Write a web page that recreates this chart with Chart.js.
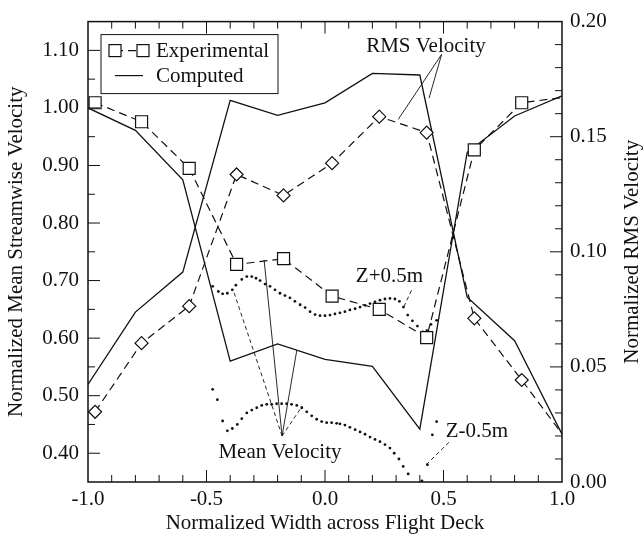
<!DOCTYPE html>
<html>
<head>
<meta charset="utf-8">
<script src="https://cdn.jsdelivr.net/npm/chart.js@4.4.0/dist/chart.umd.min.js"></script>
<style>
  html, body { margin: 0; padding: 0; background: #fff; }
</style>
</head>
<body>
<canvas id="chart" width="644" height="540"></canvas>
<script>
// experimental points (squares = mean, diamonds = rms)
const expX = [-0.970, -0.774, -0.573, -0.373, -0.175, 0.030, 0.229, 0.429, 0.630, 0.830, 1.000];
const expMean = [1.009, 0.976, 0.895, 0.728, 0.738, 0.673, 0.650, 0.601, 0.927, 1.009, 1.018];
const expRms = [0.0305, 0.0603, 0.0764, 0.1336, 0.1245, 0.1385, 0.1587, 0.1518, 0.0711, 0.0443, 0.0209];

// computed curves
const compX = [-1.0, -0.8, -0.6, -0.4, -0.2, 0.0, 0.2, 0.4, 0.6, 0.8, 1.0];
const compMean = [1.000, 0.961, 0.875, 0.560, 0.590, 0.563, 0.551, 0.442, 0.923, 0.986, 1.021];
const compRms = [0.0424, 0.0738, 0.0912, 0.1658, 0.1593, 0.1647, 0.1775, 0.1768, 0.0803, 0.0614, 0.0208];

// computed mean velocity at Z+0.5m and Z-0.5m (dots)
const zPlusX = [-0.474, -0.450, -0.432, -0.412, -0.391, -0.376, -0.351, -0.330, -0.309, -0.291,
  -0.274, -0.253, -0.232, -0.211, -0.190, -0.169, -0.148, -0.127, -0.105, -0.084,
  -0.063, -0.042, -0.021, 0.000, 0.021, 0.042, 0.063, 0.084, 0.105, 0.127,
  0.148, 0.169, 0.190, 0.211, 0.232, 0.253, 0.274, 0.295, 0.314, 0.331,
  0.349, 0.369, 0.390, 0.413, 0.430, 0.447, 0.471];
const zPlusMean = [0.690, 0.681, 0.677, 0.678, 0.684, 0.692, 0.702, 0.707, 0.707, 0.704,
  0.700, 0.694, 0.690, 0.684, 0.678, 0.674, 0.670, 0.664, 0.658, 0.653,
  0.646, 0.641, 0.639, 0.639, 0.640, 0.642, 0.644, 0.646, 0.649, 0.651,
  0.654, 0.657, 0.660, 0.663, 0.666, 0.668, 0.669, 0.668, 0.664, 0.654,
  0.640, 0.630, 0.621, 0.611, 0.613, 0.624, 0.631];
const zMinusX = [-0.474, -0.454, -0.432, -0.412, -0.391, -0.370, -0.351, -0.330, -0.309, -0.288,
  -0.267, -0.246, -0.225, -0.204, -0.183, -0.162, -0.141, -0.119, -0.098, -0.077,
  -0.056, -0.035, -0.014, 0.007, 0.028, 0.049, 0.063, 0.084, 0.105, 0.127,
  0.148, 0.169, 0.190, 0.211, 0.232, 0.253, 0.274, 0.292, 0.312, 0.330,
  0.351, 0.409, 0.432, 0.453, 0.471];
const zMinusMean = [0.511, 0.493, 0.456, 0.439, 0.443, 0.450, 0.460, 0.470, 0.475, 0.479,
  0.483, 0.485, 0.485, 0.486, 0.486, 0.486, 0.485, 0.483, 0.479, 0.472,
  0.465, 0.459, 0.455, 0.453, 0.453, 0.452, 0.451, 0.449, 0.445, 0.441,
  0.437, 0.433, 0.428, 0.424, 0.420, 0.415, 0.409, 0.400, 0.390, 0.377,
  0.364, 0.352, 0.380, 0.432, 0.455];

const xTicks = [-1.0, -0.5, 0.0, 0.5, 1.0];
const meanTicks = [0.40, 0.50, 0.60, 0.70, 0.80, 0.90, 1.00, 1.10];
const rmsTicks = [0.00, 0.05, 0.10, 0.15, 0.20];

// text labels and leader lines, in (x, mean velocity) units
const notes = [
  { text: "RMS Velocity", x: 0.426, y: 1.106 },
  { text: "Mean Velocity", x: -0.190, y: 0.402 },
  { text: "Z+0.5m", x: 0.272, y: 0.707 },
  { text: "Z-0.5m", x: 0.641, y: 0.437 },
];
const leaders = [
  [0.492, 1.093, 0.309, 0.980, false],
  [0.492, 1.093, 0.439, 1.017, false],
  [-0.181, 0.430, -0.387, 0.683, true],
  [-0.181, 0.430, -0.257, 0.736, false],
  [-0.181, 0.430, -0.119, 0.579, false],
  [-0.181, 0.430, -0.096, 0.482, true],
  [0.365, 0.683, 0.331, 0.653, true],
  [0.523, 0.419, 0.432, 0.382, true],
];

const serif = "'Liberation Serif', 'Times New Roman', serif";
const ink = "#111";
const font = { family: serif, size: 21 };
const pts = (xs, ys) => xs.map((x, i) => ({ x: x, y: ys[i] }));

const framePlugin = {
  id: "frame",
  afterDatasetsDraw(chart) {
    const c = chart.ctx;
    const a = chart.chartArea;
    const sx = chart.scales.x, sy = chart.scales.y, sr = chart.scales.y2;
    c.save();
    c.strokeStyle = ink;
    c.fillStyle = ink;

    // leaders
    c.lineWidth = 0.9;
    leaders.forEach(([x1, y1, x2, y2, dashed]) => {
      c.setLineDash(dashed ? [4, 3] : []);
      c.beginPath();
      c.moveTo(sx.getPixelForValue(x1), sy.getPixelForValue(y1));
      c.lineTo(sx.getPixelForValue(x2), sy.getPixelForValue(y2));
      c.stroke();
    });
    c.setLineDash([]);

    c.font = "21px " + serif;
    c.textAlign = "center";
    c.textBaseline = "middle";
    notes.forEach(n => c.fillText(n.text, sx.getPixelForValue(n.x), sy.getPixelForValue(n.y)));

    // inward ticks on all four sides
    c.lineWidth = 1;
    c.beginPath();
    for (let k = -9; k <= 9; k++) {
      const px = sx.getPixelForValue(k / 10);
      const len = k % 5 === 0 ? 12 : 7;
      c.moveTo(px, a.bottom); c.lineTo(px, a.bottom - len);
      c.moveTo(px, a.top); c.lineTo(px, a.top + len);
    }
    for (let k = 8; k <= 22; k++) {
      const py = sy.getPixelForValue(k / 20);
      const len = k % 2 === 0 ? 12 : 7;
      c.moveTo(a.left, py); c.lineTo(a.left + len, py);
    }
    for (let k = 1; k <= 19; k++) {
      const py = sr.getPixelForValue(k / 100);
      const len = k % 5 === 0 ? 12 : 7;
      c.moveTo(a.right, py); c.lineTo(a.right - len, py);
    }
    c.stroke();

    c.lineWidth = 1.5;
    c.strokeRect(a.left, a.top, a.right - a.left, a.bottom - a.top);

    // right axis title, reading upward
    c.save();
    c.translate(632, (a.top + a.bottom) / 2);
    c.rotate(-Math.PI / 2);
    c.fillText("Normalized RMS Velocity", 0, 0);
    c.restore();

    // legend
    const lx = a.left + 13, ly = a.top + 13;
    c.fillStyle = "#fff";
    c.fillRect(lx, ly, 177, 59);
    c.lineWidth = 1;
    c.strokeRect(lx, ly, 177, 59);
    c.lineWidth = 1.2;
    c.setLineDash([8, 5]);
    c.beginPath();
    c.moveTo(lx + 14, ly + 16); c.lineTo(lx + 42, ly + 16);
    c.stroke();
    c.setLineDash([]);
    [lx + 14, lx + 42].forEach(cx => {
      c.fillStyle = "#fff";
      c.fillRect(cx - 6, ly + 10, 12, 12);
      c.strokeRect(cx - 6, ly + 10, 12, 12);
    });
    c.beginPath();
    c.moveTo(lx + 14, ly + 41); c.lineTo(lx + 42, ly + 41);
    c.stroke();
    c.fillStyle = ink;
    c.textAlign = "left";
    c.fillText("Experimental", lx + 55, ly + 17);
    c.fillText("Computed", lx + 55, ly + 42);
    c.restore();
  }
};

const expStyle = {
  showLine: true,
  borderColor: ink,
  borderWidth: 1.2,
  borderDash: [8, 5],
  pointBackgroundColor: "#fff",
  pointBorderColor: ink,
  pointBorderWidth: 1.2,
  clip: false,
};
const compStyle = { showLine: true, borderColor: ink, borderWidth: 1.3, pointRadius: 0 };
const dotStyle = { showLine: false, pointRadius: 1.4, pointBackgroundColor: ink, pointBorderWidth: 0 };

new Chart(document.getElementById("chart"), {
  type: "scatter",
  data: {
    datasets: [
      { ...expStyle, label: "Experimental mean", data: pts(expX, expMean), yAxisID: "y",
        pointStyle: "rect", pointRadius: ctx => ctx.dataIndex === expX.length - 1 ? 0 : 8.5 },
      { ...expStyle, label: "Experimental rms", data: pts(expX, expRms), yAxisID: "y2",
        pointStyle: "rectRot", pointRadius: ctx => ctx.dataIndex === expX.length - 1 ? 0 : 6.5 },
      { ...compStyle, label: "Computed mean", data: pts(compX, compMean), yAxisID: "y" },
      { ...compStyle, label: "Computed rms", data: pts(compX, compRms), yAxisID: "y2" },
      { ...dotStyle, label: "Z+0.5m", data: pts(zPlusX, zPlusMean), yAxisID: "y" },
      { ...dotStyle, label: "Z-0.5m", data: pts(zMinusX, zMinusMean), yAxisID: "y" },
    ],
  },
  options: {
    responsive: false,
    animation: false,
    events: [],
    layout: { padding: { top: 14, left: 0, right: 0, bottom: 0 } },
    plugins: { legend: { display: false }, tooltip: { enabled: false } },
    scales: {
      x: {
        type: "linear", min: -1, max: 1,
        afterBuildTicks: s => { s.ticks = xTicks.map(v => ({ value: v })); },
        afterFit: s => { s.height = 58; },
        grid: { display: false, drawTicks: false },
        border: { display: false },
        ticks: { font: font, color: ink, padding: 5, maxRotation: 0, autoSkip: false, callback: v => v.toFixed(1) },
        title: { display: true, text: "Normalized Width across Flight Deck", font: font, color: ink, padding: { top: 0, bottom: 4 } },
      },
      y: {
        type: "linear", position: "left", min: 0.35, max: 1.15,
        afterBuildTicks: s => { s.ticks = meanTicks.map(v => ({ value: v })); },
        afterFit: s => { s.width = 88; },
        grid: { display: false, drawTicks: false },
        border: { display: false },
        ticks: { font: font, color: ink, padding: 9, autoSkip: false, callback: v => v.toFixed(2) },
        title: { display: true, text: "Normalized Mean Streamwise Velocity", font: font, color: ink, padding: { top: 4, bottom: 0 } },
      },
      y2: {
        type: "linear", position: "right", min: 0, max: 0.2,
        afterBuildTicks: s => { s.ticks = rmsTicks.map(v => ({ value: v })); },
        afterFit: s => { s.width = 82; },
        grid: { display: false, drawTicks: false },
        border: { display: false },
        ticks: { font: font, color: ink, padding: 8, autoSkip: false, callback: v => v.toFixed(2) },
      },
    },
  },
  plugins: [framePlugin],
});
</script>
</body>
</html>
